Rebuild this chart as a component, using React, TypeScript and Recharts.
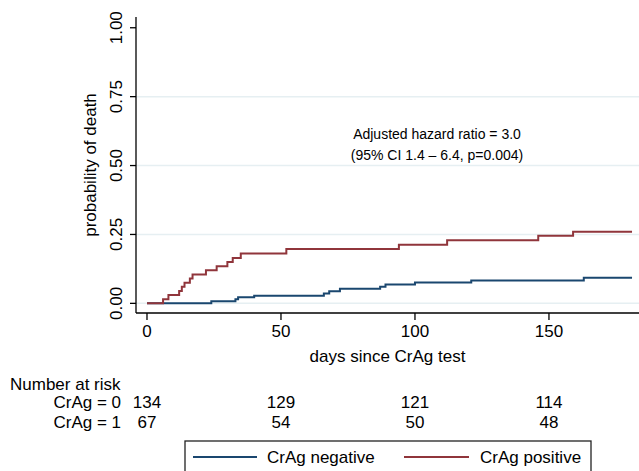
import React from 'react';
import { LineChart, Line, XAxis, YAxis, CartesianGrid } from 'recharts';

// ---- data ----
const negTimes = [0, 24, 33, 34, 40, 66, 68, 72, 87, 89, 100, 121, 163, 181];
const negValues = [0, 0.0075, 0.015, 0.022, 0.028, 0.036, 0.044, 0.053, 0.060, 0.068, 0.076, 0.083, 0.093, 0.093];
const posTimes = [0, 6, 8, 12, 13, 14, 16, 17, 22, 26, 30, 32, 35, 52, 94, 112, 146, 159, 181];
const posValues = [0, 0.015, 0.030, 0.045, 0.060, 0.075, 0.090, 0.105, 0.120, 0.135, 0.150, 0.165, 0.181, 0.197, 0.213, 0.229, 0.245, 0.260, 0.260];

const xTicks = [0, 50, 100, 150];
const yTicks = [0, 0.25, 0.5, 0.75, 1];
const gridValues = [0, 0.25, 0.5, 0.75];
const riskNeg = [134, 129, 121, 114];
const riskPos = [67, 54, 50, 48];
const seriesNames = ['CrAg negative', 'CrAg positive'];
const riskRowLabels = ['CrAg = 0', 'CrAg = 1'];
const annotation = ['Adjusted hazard ratio = 3.0', '(95% CI 1.4 \u2013 6.4, p=0.004)'];

const negData = negTimes.map((t, i) => ({ t, p: negValues[i] }));
const posData = posTimes.map((t, i) => ({ t, p: posValues[i] }));

// ---- style ----
const FONT = '"Liberation Sans", Arial, Helvetica, sans-serif';
const NAVY = '#1a476f';
const MAROON = '#90353b';
const GRID = '#e6eff2';
const FS = 17;

const XTick = (props: any) => {
  const { x, payload } = props;
  const i = xTicks.indexOf(payload.value);
  return (
    <g fontFamily={FONT} fontSize={FS} fill="#000">
      <text x={x} y={337} textAnchor="middle">{payload.value}</text>
      <text x={x} y={408} textAnchor="middle">{riskNeg[i]}</text>
      <text x={x} y={428} textAnchor="middle">{riskPos[i]}</text>
    </g>
  );
};

const YTick = (props: any) => {
  const { y, payload } = props;
  const bx = 122;
  return (
    <text x={bx} y={y} transform={`rotate(-90, ${bx}, ${y})`} textAnchor="middle"
      fontFamily={FONT} fontSize={FS} fill="#000">
      {Number(payload.value).toFixed(2)}
    </text>
  );
};

const XTitle = (props: any) => {
  const vb = props.viewBox || { x: 136, y: 313, width: 503 };
  const cx = vb.x + vb.width / 2;
  return (
    <text x={cx} y={362} textAnchor="middle" fontFamily={FONT} fontSize={FS} fill="#000">
      days since CrAg test
    </text>
  );
};

const YTitle = (props: any) => {
  const vb = props.viewBox || { y: 17, height: 296 };
  const cy = vb.y + vb.height / 2;
  const bx = 96;
  return (
    <text x={bx} y={cy} transform={`rotate(-90, ${bx}, ${cy})`} textAnchor="middle"
      fontFamily={FONT} fontSize={FS} fill="#000">
      probability of death
    </text>
  );
};

export default function App() {
  return (
    <div style={{ position: 'absolute', left: 0, top: 0, width: 639, height: 471, background: '#fff' }}>
      <LineChart width={639} height={471} margin={{ top: 17, right: 0, bottom: 0, left: 0 }}>
        <CartesianGrid horizontal vertical={false} horizontalValues={gridValues} stroke={GRID} strokeWidth={1.5} />
        <XAxis type="number" dataKey="t" domain={[-4.1, 183.6]} allowDataOverflow ticks={xTicks} interval={0}
          height={158} tickSize={7} tick={<XTick />} stroke="#000" strokeWidth={1.3}
          tickLine={{ stroke: '#000', strokeWidth: 1.3 }} label={<XTitle />} />
        <YAxis type="number" domain={[-0.035, 1.039]} allowDataOverflow ticks={yTicks} interval={0}
          width={136} tickSize={6} tick={<YTick />} stroke="#000" strokeWidth={1.3}
          tickLine={{ stroke: '#000', strokeWidth: 1.3 }} label={<YTitle />} />
        <Line data={negData} dataKey="p" type="stepAfter" stroke={NAVY} strokeWidth={2} dot={false}
          isAnimationActive={false} name={seriesNames[0]} />
        <Line data={posData} dataKey="p" type="stepAfter" stroke={MAROON} strokeWidth={2} dot={false}
          isAnimationActive={false} name={seriesNames[1]} />
      </LineChart>
      <svg width={639} height={471} style={{ position: 'absolute', left: 0, top: 0, pointerEvents: 'none' }}
        fontFamily={FONT} fill="#000">
        <text x={437} y={139} fontSize={14} textAnchor="middle">{annotation[0]}</text>
        <text x={437} y={160} fontSize={14} textAnchor="middle">{annotation[1]}</text>
        <text x={10} y={390} fontSize={FS}>Number at risk</text>
        <text x={121} y={408} fontSize={FS} textAnchor="end">{riskRowLabels[0]}</text>
        <text x={121} y={428} fontSize={FS} textAnchor="end">{riskRowLabels[1]}</text>
        <rect x={185} y={441} width={406} height={40} fill="#fff" stroke="#222" strokeWidth={1.3} />
        <line x1={193} x2={257} y1={457} y2={457} stroke={NAVY} strokeWidth={2} />
        <text x={267} y={463} fontSize={FS}>{seriesNames[0]}</text>
        <line x1={404} x2={469} y1={457} y2={457} stroke={MAROON} strokeWidth={2} />
        <text x={480} y={463} fontSize={FS}>{seriesNames[1]}</text>
      </svg>
    </div>
  );
}
